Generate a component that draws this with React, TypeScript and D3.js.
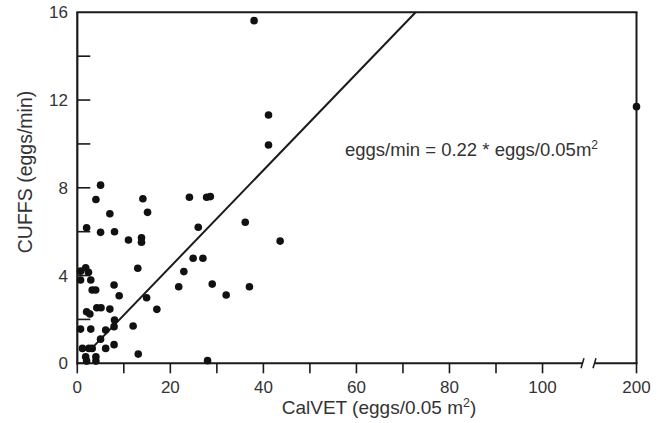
import React from "react";
import * as d3 from "d3";

const xVals = [5.0, 4.0, 14.1, 7.0, 15.1, 2.0, 5.0, 8.0, 11.0, 13.8, 13.8, 13.0, 0.7, 1.8, 2.4, 0.7, 2.9, 3.2, 3.95, 7.9, 9.0, 14.9, 17.1, 21.8, 4.2, 5.1, 7.0, 2.0, 2.7, 8.0, 0.7, 2.9, 6.1, 7.9, 12.0, 5.0, 7.9, 6.1, 1.1, 2.5, 3.2, 13.1, 1.8, 4.0, 2.0, 4.0, 24.1, 27.8, 28.6, 36.1, 26.0, 43.6, 24.9, 27.0, 22.9, 29.0, 32.0, 37.0, 28.0, 38.0, 41.1, 41.1, 200];
const yVals = [8.12, 7.47, 7.5, 6.82, 6.88, 6.18, 5.97, 6.0, 5.62, 5.72, 5.52, 4.33, 4.2, 4.35, 4.15, 3.8, 3.8, 3.34, 3.34, 3.57, 3.08, 2.99, 2.46, 3.49, 2.53, 2.53, 2.47, 2.35, 2.25, 1.97, 1.56, 1.56, 1.52, 1.67, 1.7, 1.1, 0.85, 0.68, 0.68, 0.68, 0.68, 0.42, 0.3, 0.3, 0.1, 0.1, 7.57, 7.57, 7.6, 6.43, 6.2, 5.57, 4.79, 4.79, 4.18, 3.61, 3.11, 3.49, 0.12, 15.62, 11.32, 9.95, 11.7];

const xTicks = [0, 10, 20, 30, 40, 50, 60, 70, 80, 90, 100, 200];
const xLabels = [0, 20, 40, 60, 80, 100, 200];
const yTicks = [0, 2, 4, 6, 8, 10, 12, 14];
const yLabels = [0, 4, 8, 12, 16];
const slope = 0.22;
const fitStart = 3;

const FONT = "Arial, 'Liberation Sans', Helvetica, sans-serif";
const INK = "#1a1a1a";
const TXT = "#333";

export default function App() {
  const xs = d3.scaleLinear().domain([0, 108.7, 191.2, 200]).range([77.3, 583, 595, 636.5]);
  const ys = d3.scaleLinear().domain([0, 16]).range([363.3, 12.3]);
  const x0 = xs(0), x1 = xs(200), yb = ys(0), yt = ys(16);
  const breakL = xs(108.7), breakR = xs(191.2);
  const line = d3.line<[number, number]>().x(d => xs(d[0])).y(d => ys(d[1]));
  const fit: [number, number][] = [[fitStart, slope * fitStart], [16 / slope, 16]];
  return (
    <svg width={660} height={423} style={{ position: "absolute", left: 0, top: 0, background: "#fff" }}>
      <rect width={660} height={423} fill="#fff" />
      {/* spines */}
      <line x1={x0} x2={x0} y1={yt} y2={yb + 1} stroke={INK} strokeWidth={2.2} />
      <line x1={x0 - 1} x2={x1 + 1} y1={yt} y2={yt} stroke={INK} strokeWidth={2} />
      <line x1={x1} x2={x1} y1={yt} y2={yb} stroke={INK} strokeWidth={2} />
      <line x1={x0 - 1} x2={breakL} y1={yb} y2={yb} stroke={INK} strokeWidth={2} />
      <line x1={breakR} x2={x1 + 1} y1={yb} y2={yb} stroke={INK} strokeWidth={2} />
      {/* break marks */}
      <line x1={breakL - 2} x2={breakL + 1} y1={yb + 5} y2={yb - 5} stroke={INK} strokeWidth={1.5} />
      <line x1={breakR - 2} x2={breakR + 1} y1={yb + 5} y2={yb - 5} stroke={INK} strokeWidth={1.5} />
      {/* x ticks */}
      {xTicks.map(t => (
        <line key={"xt" + t} x1={xs(t)} x2={xs(t)} y1={yb} y2={yb + 10} stroke={INK} strokeWidth={1.6} />
      ))}
      {xLabels.map(t => (
        <text key={"xl" + t} x={xs(t)} y={393} textAnchor="middle" fontFamily={FONT} fontSize={17} fill={TXT}>{t}</text>
      ))}
      {/* y ticks */}
      {yTicks.map(t => (
        <line key={"yt" + t} x1={x0} x2={x0 + 13} y1={ys(t)} y2={ys(t)} stroke={INK} strokeWidth={1.6} />
      ))}
      {yLabels.map(t => (
        <text key={"yl" + t} x={68} y={ys(t) + 6} textAnchor="end" fontFamily={FONT} fontSize={17} fill={TXT}>{t}</text>
      ))}
      {/* fit line */}
      <path d={line(fit) || ""} fill="none" stroke={INK} strokeWidth={2} />
      {/* points */}
      {xVals.map((v, i) => (
        <circle key={"p" + i} cx={xs(v)} cy={ys(yVals[i])} r={3.8} fill="#111" />
      ))}
      {/* equation */}
      <text x={345} y={156} fontFamily={FONT} fontSize={18.5} fill={TXT}>
        eggs/min = 0.22 * eggs/0.05m<tspan dy={-7} fontSize={12}>2</tspan>
      </text>
      {/* axis titles */}
      <text x={379} y={414} textAnchor="middle" fontFamily={FONT} fontSize={19} fill={TXT}>
        CalVET (eggs/0.05 m<tspan dy={-7} fontSize={12.5}>2</tspan><tspan dy={7}>)</tspan>
      </text>
      <text transform="translate(32,172) rotate(-90)" textAnchor="middle" fontFamily={FONT} fontSize={19.5} fill={TXT}>
        CUFFS (eggs/min)
      </text>
    </svg>
  );
}
